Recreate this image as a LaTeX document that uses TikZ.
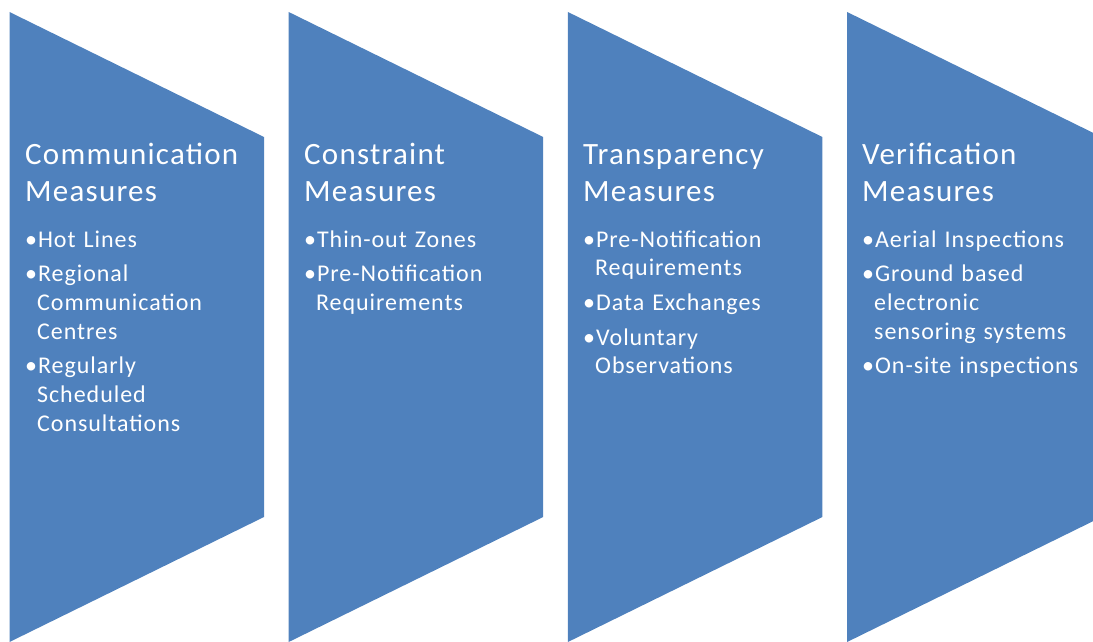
\documentclass[tikz,border=0pt]{standalone}
\usepackage{fontspec}
\setmainfont{Carlito}
\newfontfamily\widefont[LetterSpace=4]{Carlito}
\definecolor{chevblue}{HTML}{4F81BD}
\newcommand{\bitem}[1]{\setbox0\hbox{\textbullet}\hangindent=\wd0\hangafter=1\noindent\strut\textbullet#1\par}

\begin{document}
\begin{tikzpicture}[x=1pt, y=-1pt]
\tikzset{ttl/.style={text=white, inner sep=0pt, anchor=base west, align=left, font=\widefont\fontsize{31}{37}\selectfont},
lst/.style={text=white, inner sep=0pt, anchor=north west, text width=240pt, font=\widefont\fontsize{24}{28.7}\selectfont\setlength{\parskip}{6pt}}}
\clip (0, 0) rectangle (1093, 642);
\foreach \i in {0,...,3}
  \fill[chevblue] ({9.5+279.2*\i}, 12) -- ++(254.5, 125) -- ++(0, 380) -- ++(-254.5, 125) -- cycle;
\node[ttl] (T1) at (25, 201) {Communication\\Measures};
\node[ttl] (T2) at (304, 201) {Constraint\\Measures};
\node[ttl] (T3) at (583, 201) {Transparency\\Measures};
\node[ttl] (T4) at (862, 201) {Verification\\Measures};
\node[lst] (L1) at (25, 226.9) {\bitem{Hot Lines}\bitem{Regional\newline Communication\newline Centres}\bitem{Regularly\newline Scheduled\newline Consultations}};
\node[lst] (L2) at (304, 226.9) {\bitem{Thin-out Zones}\bitem{Pre-Notification\newline Requirements}};
\node[lst] (L3) at (583, 226.9) {\bitem{Pre-Notification\newline Requirements}\bitem{Data Exchanges}\bitem{Voluntary\newline Observations}};
\node[lst] (L4) at (862, 226.9) {\bitem{Aerial Inspections}\bitem{Ground based\newline electronic\newline sensoring systems}\bitem{On-site inspections}};
\end{tikzpicture}
\end{document}
